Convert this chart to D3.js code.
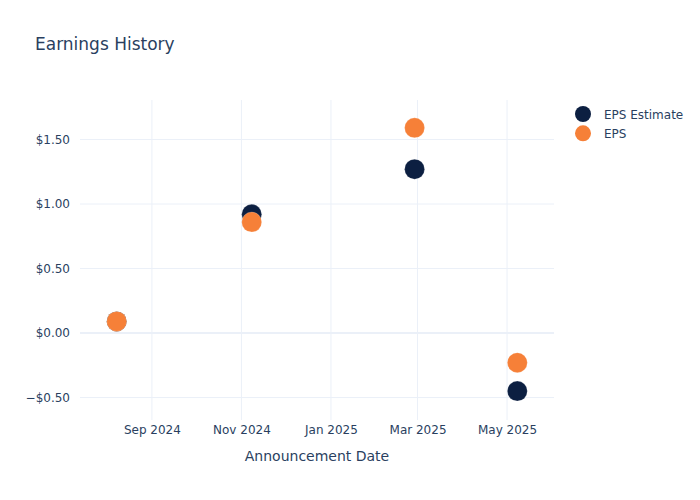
<!DOCTYPE html>
<html><head><meta charset="utf-8">
<script src="https://cdn.jsdelivr.net/npm/d3@7"></script>
<style>body{margin:0;background:#fff;} text{font-family:"DejaVu Sans",sans-serif;}</style>
</head><body>
<svg id="chart" width="700" height="500"></svg>
<script>
const dates = ["2024-08-08","2024-11-08","2025-02-27","2025-05-08"];
const epsEstimate = [0.09, 0.92, 1.27, -0.45];
const eps = [0.09, 0.86, 1.59, -0.23];
const yTicks = [-0.5, 0, 0.5, 1.0, 1.5];
const xTicks = ["2024-09-01","2024-11-01","2025-01-01","2025-03-01","2025-05-01"];
const seriesNames = ["EPS Estimate","EPS"];
const colors = ["#0c1f41","#f68038"];

const parse = d3.utcParse("%Y-%m-%d");
const svg = d3.select("#chart");
const L=80, R=554, T=100, B=420;
const x = d3.scaleUtc().domain([parse("2024-07-14"), parse("2025-06-02")]).range([L,R]);
const y = d3.scaleLinear().domain([-0.674, 1.806]).range([B,T]);
const grid = "#ebf0f8", txt = "#2a3f5f";

// grid
svg.append("g").selectAll("line").data(xTicks).join("line")
  .attr("x1",d=>x(parse(d))).attr("x2",d=>x(parse(d))).attr("y1",T).attr("y2",B)
  .attr("stroke",grid).attr("stroke-width",1);
svg.append("g").selectAll("line").data(yTicks).join("line")
  .attr("x1",L).attr("x2",R).attr("y1",d=>y(d)).attr("y2",d=>y(d))
  .attr("stroke",grid).attr("stroke-width",d=>d===0?2:1);

// axes labels
const fmtY = d => (d<0?"\u2212":"") + "$" + Math.abs(d).toFixed(2);
const yAxis = d3.axisLeft(y).tickValues(yTicks).tickFormat(fmtY).tickSize(0).tickPadding(8);
const gy = svg.append("g").attr("transform",`translate(${L-2},0)`).call(yAxis);
gy.select(".domain").remove();
gy.selectAll("text").attr("fill",txt).style("font-size","12px");

const xAxis = d3.axisBottom(x).tickValues(xTicks.map(parse)).tickFormat(d3.utcFormat("%b %Y")).tickSize(0).tickPadding(5);
const gx = svg.append("g").attr("transform",`translate(0,${B})`).call(xAxis);
gx.select(".domain").remove();
gx.selectAll("text").attr("fill",txt).style("font-size","12px");

svg.append("text").attr("x",(L+R)/2).attr("y",461).attr("text-anchor","middle")
  .attr("fill",txt).style("font-size","14px").text("Announcement Date");
svg.append("text").attr("x",35).attr("y",50).attr("fill",txt).style("font-size","17px").text("Earnings History");

// points
[epsEstimate, eps].forEach((vals,i)=>{
  svg.append("g").selectAll("circle").data(vals).join("circle")
    .attr("cx",(d,j)=>x(parse(dates[j]))).attr("cy",d=>y(d)).attr("r",10)
    .attr("fill",colors[i]).attr("stroke","#ffffff").attr("stroke-width",0.5).attr("stroke-opacity",0.4);
});

// legend
const lg = svg.append("g");
seriesNames.forEach((n,i)=>{
  const cy = 114 + i*19.3;
  lg.append("circle").attr("cx",583).attr("cy",cy).attr("r",8).attr("fill",colors[i]);
  lg.append("text").attr("x",604).attr("y",cy+4.5).attr("fill",txt).style("font-size","12px").text(n);
});
</script>
</body></html>
